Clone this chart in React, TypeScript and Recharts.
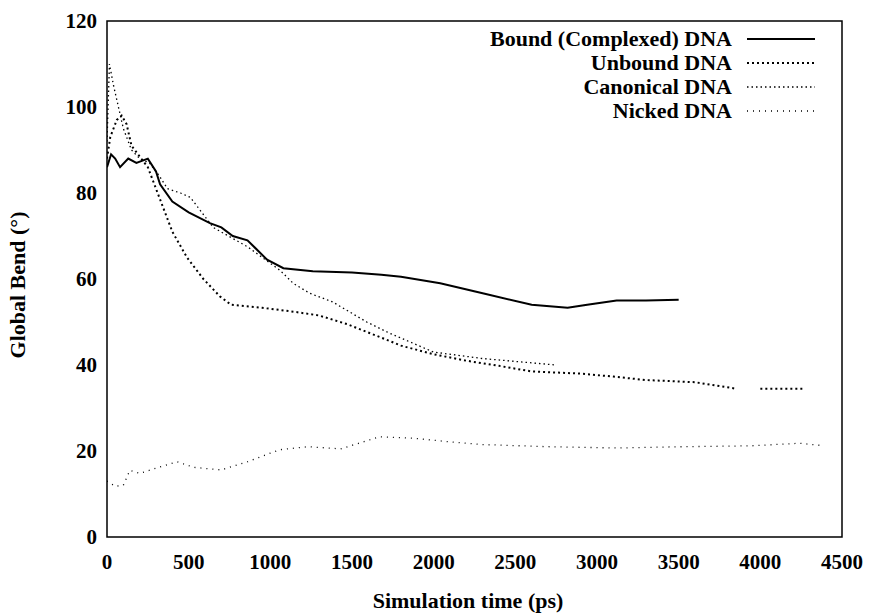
import React from 'react';
import { LineChart, Line, XAxis, YAxis, ReferenceArea, Legend } from 'recharts';

const xTicks = [0, 500, 1000, 1500, 2000, 2500, 3000, 3500, 4000, 4500];
const yTicks = [0, 20, 40, 60, 80, 100, 120];

const boundDNA: [number, number][] = [
  [0, 86], [25, 89], [50, 88], [80, 86], [130, 88], [180, 87], [250, 88], [300, 85],
  [325, 82], [400, 78], [500, 75.5], [630, 73], [700, 72], [770, 70], [860, 69],
  [980, 64.5], [1080, 62.5], [1260, 61.8], [1500, 61.5], [1680, 61], [1800, 60.5],
  [2040, 59], [2300, 56.7], [2600, 54], [2820, 53.3], [2940, 54], [3120, 55],
  [3300, 55], [3500, 55.2],
];

const unboundDNA: [number, number | null][] = [
  [0, 88], [20, 93], [60, 97], [90, 98], [120, 96], [150, 91], [200, 88.5], [250, 86],
  [290, 82], [340, 77], [400, 71], [490, 65], [590, 60], [690, 56], [760, 54],
  [950, 53.3], [1160, 52.3], [1300, 51.5], [1470, 49.5], [1670, 46.5], [1800, 44.5],
  [2000, 42.5], [2200, 41], [2400, 39.8], [2600, 38.5], [2900, 38], [3100, 37.3],
  [3300, 36.5], [3600, 36], [3850, 34.5], [3920, null], [4000, 34.5], [4260, 34.5],
];

const canonicalDNA: [number, number][] = [
  [0, 92], [15, 110], [40, 105], [70, 100], [100, 95], [150, 90], [200, 88], [260, 87],
  [320, 84], [370, 81], [450, 80], [510, 79], [590, 75], [650, 72], [860, 67.5],
  [1060, 62], [1140, 59], [1240, 56.7], [1380, 54.7], [1590, 50], [1730, 47.4],
  [2000, 43], [2300, 41.5], [2600, 40.5], [2750, 40],
];

const nickedDNA: [number, number][] = [
  [0, 13], [50, 11.8], [100, 12], [140, 15.5], [200, 14.8], [300, 16], [430, 17.5],
  [530, 16.2], [700, 15.6], [860, 17.5], [1000, 19.5], [1060, 20.3], [1230, 21],
  [1430, 20.5], [1670, 23.3], [1870, 23], [2080, 22.2], [2300, 21.5], [2700, 21],
  [3120, 20.7], [3530, 21], [3940, 21.2], [4240, 21.8], [4370, 21.3],
];

const toRows = (arr: [number, number | null][]) => arr.map(([t, v]) => ({ t, v }));

const FONT = '"Liberation Serif", "DejaVu Serif", serif';

const seriesDefs = [
  { name: 'Bound (Complexed) DNA', data: boundDNA, width: 2, dash: undefined as string | undefined },
  { name: 'Unbound DNA', data: unboundDNA, width: 2, dash: '2 3' },
  { name: 'Canonical DNA', data: canonicalDNA, width: 1.3, dash: '1.5 3' },
  { name: 'Nicked DNA', data: nickedDNA, width: 1.3, dash: '1 5' },
];

const LegendBox = () => (
  <div style={{ fontFamily: FONT, fontWeight: 'bold', fontSize: 22, color: '#000' }}>
    {seriesDefs.map((s) => (
      <div key={s.name} style={{ display: 'flex', justifyContent: 'flex-end', alignItems: 'center', height: 24 }}>
        <span style={{ whiteSpace: 'nowrap', lineHeight: '24px' }}>{s.name}</span>
        <svg width={68} height={10} style={{ marginLeft: 15 }}>
          <line x1={0} y1={5} x2={68} y2={5} stroke="#000" strokeWidth={s.width} strokeDasharray={s.dash} />
        </svg>
      </div>
    ))}
  </div>
);

export default function App() {
  return (
    <div style={{ position: 'absolute', left: 0, top: 0, background: '#fff' }}>
      <LineChart width={869} height={616} margin={{ top: 21, right: 27, bottom: 0, left: 0 }}>
        <XAxis
          dataKey="t"
          type="number"
          domain={[0, 4500]}
          ticks={xTicks}
          allowDataOverflow
          height={79}
          axisLine={false}
          tickLine={false}
          tickSize={0}
          tickMargin={17}
          tick={{ fill: '#000', fontSize: 21, fontWeight: 'bold', fontFamily: FONT }}
          label={{
            content: () => (
              <text x={468} y={608} textAnchor="middle" fontFamily={FONT} fontWeight="bold" fontSize={22} fill="#000">
                Simulation time (ps)
              </text>
            ),
          }}
        />
        <YAxis
          type="number"
          domain={[0, 120]}
          ticks={yTicks}
          allowDataOverflow
          width={107}
          axisLine={false}
          tickLine={false}
          tickSize={0}
          tickMargin={10}
          tick={{ fill: '#000', fontSize: 21, fontWeight: 'bold', fontFamily: FONT }}
          label={{
            content: () => (
              <text x={25} y={285} transform="rotate(-90 25 285)" textAnchor="middle" fontFamily={FONT} fontWeight="bold" fontSize={22} fill="#000">
                Global Bend (°)
              </text>
            ),
          }}
        />
        <ReferenceArea x1={0} x2={4500} y1={0} y2={120} fill="none" stroke="#000" strokeWidth={1.5} ifOverflow="visible" />
        {seriesDefs.map((s) => (
          <Line
            key={s.name}
            data={toRows(s.data)}
            dataKey="v"
            name={s.name}
            type="linear"
            stroke="#000"
            strokeWidth={s.width}
            strokeDasharray={s.dash}
            dot={false}
            connectNulls={false}
            isAnimationActive={false}
          />
        ))}
        <Legend
          layout="vertical"
          align="center"
          verticalAlign="middle"
          content={() => <LegendBox />}
          wrapperStyle={{ position: 'absolute', left: 330, top: 27, width: 485 }}
        />
      </LineChart>
    </div>
  );
}
